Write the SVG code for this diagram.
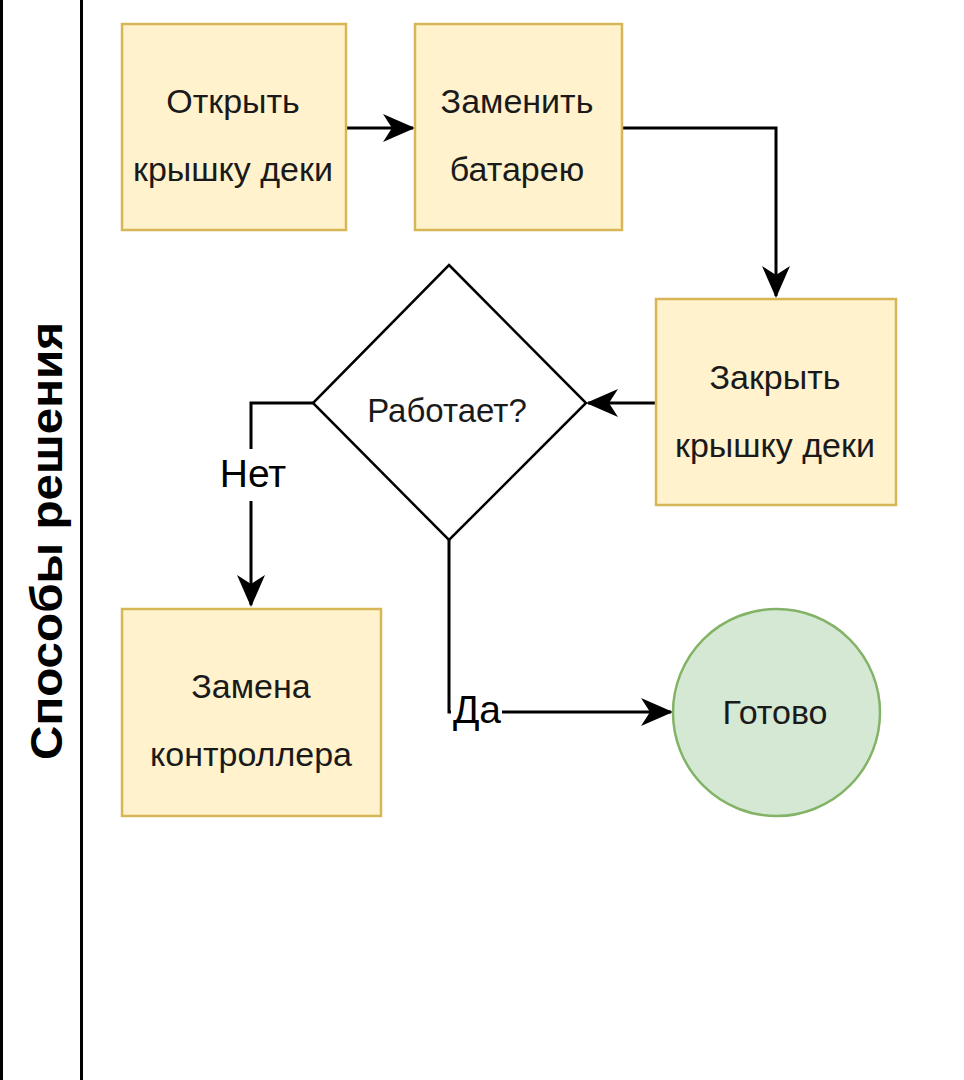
<svg xmlns="http://www.w3.org/2000/svg" width="964" height="1080" viewBox="0 0 964 1080">
<style>
.box{fill:#fff2cc;stroke:#d6b656;stroke-width:2.5}
.t{font-family:"Liberation Sans",Arial,sans-serif;font-size:34px;fill:#1a1a1a;text-anchor:middle}
.lbl{font-family:"Liberation Sans",Arial,sans-serif;font-size:39px;fill:#000;text-anchor:middle}
.edge{fill:none;stroke:#000;stroke-width:3}
</style>
<defs>
<marker id="arr" markerUnits="userSpaceOnUse" markerWidth="34" markerHeight="30" viewBox="0 0 34 30" refX="30" refY="15" orient="auto">
<path d="M0,1 L32,15 L0,29 L9,15 Z" fill="#000"/>
</marker>
</defs>
<rect width="964" height="1080" fill="#fff"/>
<g id="lane">
<line x1="1.5" y1="0" x2="1.5" y2="1080" stroke="#000" stroke-width="3"/>
<line x1="81.5" y1="0" x2="81.5" y2="1080" stroke="#000" stroke-width="3"/>
<text transform="translate(62,541) rotate(-90)" font-family="'Liberation Sans',Arial,sans-serif" font-size="44" font-weight="bold" text-anchor="middle" textLength="438" lengthAdjust="spacingAndGlyphs">Способы решения</text>
</g>
<g id="connectors">
<path class="edge" d="M347,128 L413,128" marker-end="url(#arr)"/>
<path class="edge" d="M622,128 L776,128 L776,296" marker-end="url(#arr)"/>
<path class="edge" d="M656,403 L588,403" marker-end="url(#arr)"/>
<path class="edge" d="M313,403 L251,403 L251,605" marker-end="url(#arr)"/>
<path class="edge" d="M449,540 L449,712 L671,712" marker-end="url(#arr)"/>
<rect x="216" y="449" width="72" height="52" fill="#fff"/>
<text class="lbl" x="253" y="487">Нет</text>
<rect x="451" y="690" width="51" height="44" fill="#fff"/>
<text class="lbl" x="477" y="723">Да</text>
</g>
<g id="n1">
<rect class="box" x="122" y="24" width="224" height="206"/>
<text class="t" x="233" y="113">Открыть</text>
<text class="t" x="233" y="181">крышку деки</text>
</g>
<g id="n2">
<rect class="box" x="415" y="24" width="207" height="206"/>
<text class="t" x="517" y="113">Заменить</text>
<text class="t" x="517" y="181">батарею</text>
</g>
<g id="n3">
<rect class="box" x="656" y="299" width="240" height="206"/>
<text class="t" x="775" y="389">Закрыть</text>
<text class="t" x="775" y="457">крышку деки</text>
</g>
<g id="n4">
<polygon points="449,265 586,403 449,540 313,403" fill="#fff" stroke="#000" stroke-width="2.5"/>
<text class="t" x="447" y="422" style="font-size:33px">Работает?</text>
</g>
<g id="n5">
<rect class="box" x="122" y="609" width="259" height="207"/>
<text class="t" x="251" y="698">Замена</text>
<text class="t" x="251" y="766">контроллера</text>
</g>
<g id="n6">
<circle cx="776.5" cy="712.5" r="103.5" fill="#d5e8d4" stroke="#82b366" stroke-width="2.5"/>
<text class="t" x="775" y="724">Готово</text>
</g>
</svg>
